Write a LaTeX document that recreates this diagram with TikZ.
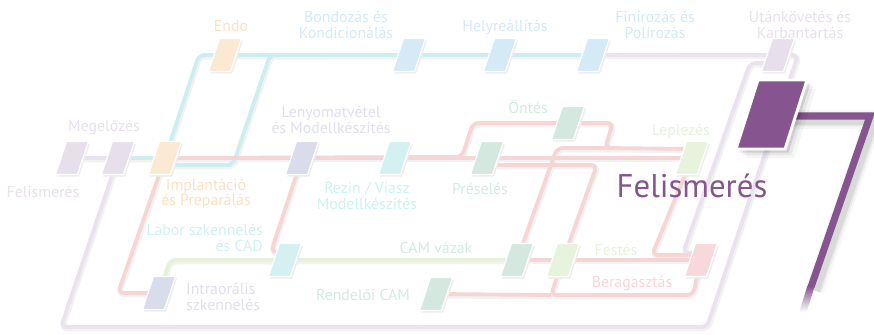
\documentclass[tikz,border=0pt]{standalone}
\usepackage{fontspec}
\setmainfont{PT Sans}
\usetikzlibrary{calc}

\definecolor{cyanline}{RGB}{205,238,240}
\definecolor{cyantext}{RGB}{206,240,242}
\definecolor{cyanstn}{RGB}{212,240,241}
\definecolor{bluestn}{RGB}{213,234,247}
\definecolor{bluetext}{RGB}{210,233,250}
\definecolor{orangestn}{RGB}{252,233,212}
\definecolor{orangetext}{RGB}{251,224,193}
\definecolor{lavline}{RGB}{234,226,238}
\definecolor{lavstn}{RGB}{231,224,236}
\definecolor{lavtext}{RGB}{231,223,237}
\definecolor{pinkline}{RGB}{246,213,213}
\definecolor{pinkstn}{RGB}{247,216,219}
\definecolor{pinktext}{RGB}{247,212,215}
\definecolor{greenstn}{RGB}{212,232,224}
\definecolor{greentext}{RGB}{210,234,226}
\definecolor{limestn}{RGB}{231,243,221}
\definecolor{limeline}{RGB}{229,242,219}
\definecolor{limetext}{RGB}{230,242,220}
\definecolor{slatestn}{RGB}{216,220,235}
\definecolor{slatetext}{RGB}{222,222,239}
\definecolor{plum}{RGB}{134,84,142}

% one slanted station box round a named coordinate
\newcommand\stationbox[2]{%
  \fill[black!7,shift={(#1)}] (-4,-14.5) -- (18,-14.5) -- (7,18.5) -- (-15,18.5) -- cycle;
  \filldraw[fill=#2,draw=white,line width=1pt,shift={(#1)}]
    (-5.5,-16.5) -- (16.5,-16.5) -- (5.5,16.5) -- (-16.5,16.5) -- cycle;}

% the metro routes, drawn twice (shadow, then colour)
\def\allroutes{%
  % cyan
  \draw[route=cyanline] (meg) -- (impl) -- (199,55) -- (finir);
  \draw[route=cyanline] ($(impl)+(0,7)$) -- (233,165) -- (270,55) -- (330,55);
  % lavender
  \draw[route=lavline] (fel) -- (meg) -- (61,327) -- (707,327) -- (798,55) -- (utan);
  \draw[route=lavline] (finir) -- (utan);
  \draw[route=lavline] ($(utan)+(0,8)$) -- (750,63) -- (683,253) -- ($(berag)+(0,-7)$);
  % pink
  \draw[route=pinkline] (impl) -- (462,157) -- (473,123) -- (ontes) -- (613,123) -- (605,148) -- ($(lepl)+(0,-9)$);
  \draw[route=pinkline] (impl) -- (lepl);
  \draw[route=pinkline] ($(pres)+(0,7)$) -- (597,165) -- (festes) -- (551,295) -- (693,295) -- (berag);
  \draw[route=pinkline] (camv) -- (557,148) -- (610,148);
  \draw[route=pinkline] (camv) -- (festes) -- (berag);
  \draw[route=pinkline] (rendcam) -- (551,295);
  \draw[route=pinkline] (lepl) -- (652,255) -- ($(berag)+(0,-5)$);
  \draw[route=pinkline] (leny) -- (271,252) -- ($(labor)+(0,-8)$);
  \draw[route=pinkline] (impl) -- (118,293) -- (intra);
  % lime
  \draw[route=limeline] (intra) -- (170,260) -- (labor) -- (camv);
}

\begin{document}
\begin{tikzpicture}
  [x=0.03cm,y=-0.03cm,
   every node/.style={font=\fontsize{13.5}{13}\selectfont,align=center,inner sep=0pt},
   big/.style={font=\fontsize{28}{30}\selectfont,text=plum}]
  \useasboundingbox (0,0) rectangle (874,334);

  \coordinate (fel) at (72,158);
  \coordinate (meg) at (118,158);
  \coordinate (impl) at (165,158);
  \coordinate (endo) at (225,55);
  \coordinate (bond) at (409,55);
  \coordinate (helyr) at (500,55);
  \coordinate (finir) at (593,55);
  \coordinate (utan) at (778,55);
  \coordinate (leny) at (302,158);
  \coordinate (rezin) at (395,158);
  \coordinate (pres) at (487,158);
  \coordinate (ontes) at (568,123);
  \coordinate (lepl) at (692,158);
  \coordinate (labor) at (285,260);
  \coordinate (intra) at (159,293);
  \coordinate (camv) at (517,260);
  \coordinate (festes) at (563,260);
  \coordinate (rendcam) at (436,294);
  \coordinate (berag) at (701,260);
  \coordinate (recog) at (770,114);

  \begin{scope}[route/.style={draw=black!5,line width=5pt,rounded corners=5pt},
                transform canvas={shift={(0.8pt,-1.3pt)}}]
    \allroutes
  \end{scope}
  \begin{scope}[route/.style={draw=#1,line width=3.3pt,rounded corners=5pt}]
    \allroutes
  \end{scope}

  \foreach \stn/\col in {fel/lavstn,meg/lavstn,impl/orangestn,endo/orangestn,
      bond/bluestn,helyr/bluestn,finir/bluestn,utan/lavstn,leny/slatestn,
      rezin/cyanstn,pres/greenstn,ontes/greenstn,lepl/limestn,labor/cyanstn,
      intra/slatestn,camv/greenstn,festes/limestn,rendcam/greenstn,berag/pinkstn}
    \stationbox{\stn}{\col};

  % labels
  \node[text=orangetext] (endolbl) at (231,26) {Endo};
  \node[text=bluetext] (bondlbl) at (346,25) {Bondozás és\\Kondicionálás};
  \node[text=bluetext] (helyrlbl) at (505,27) {Helyreállítás};
  \node[text=bluetext] (finirlbl) at (655,25) {Finírozás és\\Polírozás};
  \node[text=lavtext] (utanlbl) at (800,25) {Utánkövetés és\\Karbantartás};
  \node[text=lavtext] (meglbl) at (104,127) {Megelőzés};
  \node[text=lavtext] (fellbl) at (43,192) {Felismerés};
  \node[text=orangetext] (impllbl) at (206,194) {Implantáció\\és Preparálás};
  \node[text=cyantext,anchor=east,align=right] (laborlbl) at (263,238) {Labor szkennelés\\és CAD};
  \node[text=slatetext,anchor=west,align=left] (intralbl) at (186,297) {Intraorális\\szkennelés};
  \node[text=slatetext] (lenylbl) at (331,120) {Lenyomatvétel\\és Modellkészítés};
  \node[text=cyantext] (rezinlbl) at (367,196) {Rezin / Viasz\\Modellkészítés};
  \node[text=greentext] (preslbl) at (480,189) {Préselés};
  \node[text=greentext] (onteslbl) at (528,107) {Öntés};
  \node[text=limetext] (lepllbl) at (681,131) {Leplezés};
  \node[text=greentext] (camvlbl) at (436,248) {CAM vázak};
  \node[text=greentext] (rendcamlbl) at (363,295) {Rendelői CAM};
  \node[text=limetext] (festeslbl) at (616,250) {Festés};
  \node[text=pinktext] (beraglbl) at (632,283) {Beragasztás};
  \node[big] (recoglbl) at (692,186) {Felismerés};

  % thick purple line leaving the big station, with its shadow
  \foreach \w/\o in {16/0.03,12/0.05,9/0.07}
    \draw[line width=\w pt,black,opacity=\o,line join=round,
          transform canvas={shift={(3pt,-3pt)}}] (790,116) -- (870,116) -- (811,287);
  \draw[plum,line width=6pt] (790,116) -- (870,116) -- (811,287);
  \shade[top color=plum,bottom color=white]
    (807.3,286) -- (814.7,286) -- (806.7,312) -- (799.3,312) -- cycle;

  % big station
  \foreach \o/\d in {0.04/9,0.06/6,0.1/3.5}
    \fill[black,opacity=\o,shift={(recog)}]
      (-12+\d,-34+\d) -- (37+\d,-34+\d) -- (15+\d,35+\d) -- (-34+\d,35+\d) -- cycle;
  \filldraw[fill=plum,draw=white,line width=2.5pt,shift={(recog)}]
    (-12,-34) -- (37,-34) -- (15,35) -- (-34,35) -- cycle;
\end{tikzpicture}
\end{document}
